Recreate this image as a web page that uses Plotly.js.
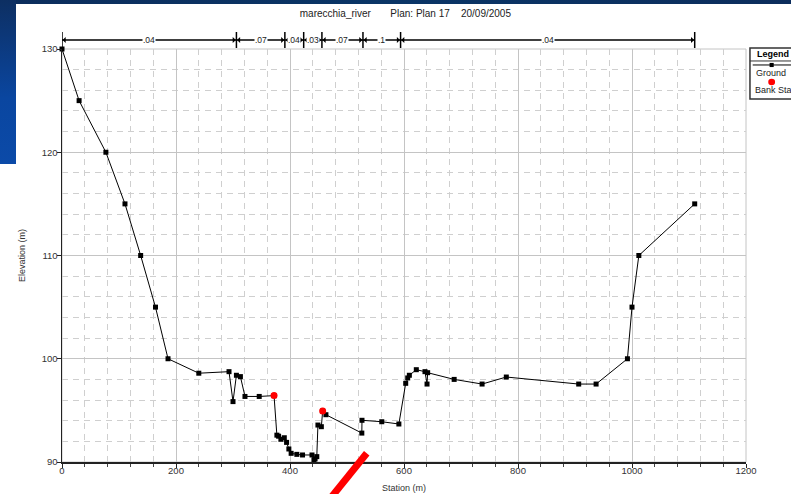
<!DOCTYPE html>
<html>
<head>
<meta charset="utf-8">
<script src="https://cdn.plot.ly/plotly-3.0.1.min.js"></script>
<style>
  html, body { margin:0; padding:0; background:#ffffff; }
  #wrap { position:relative; width:791px; height:494px; overflow:hidden; }
  #chart { position:absolute; left:0; top:0; width:791px; height:494px; }
  #topband { position:absolute; left:0; top:0; width:791px; height:4px; background:linear-gradient(90deg,#0c2d5c,#0a3566 50%,#0c2d5c); }
  #leftband { position:absolute; left:0; top:0; width:16px; height:164px; background:linear-gradient(180deg,#0d2f62,#0a46a0 60%,#0b4aa8); }
</style>
</head>
<body>
<div id="wrap">
  <div id="chart"></div>
  <div id="topband"></div>
  <div id="leftband"></div>
</div>
<script>
// Ground profile (station m, elevation m)
const station = [0, 30, 77, 110.5, 138, 164, 186,
  240, 293, 300, 306, 313, 321, 346, 372,
  377, 380, 384, 390, 394, 398, 402, 412, 422, 438.6,
  442, 444, 447, 449, 455, 457.3, 463,
  526, 526.3, 561, 591,
  603, 606.5, 609.4, 621.6, 636.8, 640.4, 641.5,
  688, 737, 779.5, 906.5, 937,
  992, 1000, 1012, 1110];
const elevation = [130, 125, 120, 115, 110, 105, 100,
  98.6, 98.75, 95.85, 98.4, 98.27, 96.35, 96.35, 96.43,
  92.6, 92.5, 92.2, 92.35, 91.9, 91.26, 90.84, 90.74, 90.68, 90.68,
  90.2, 90.3, 90.52, 93.58, 93.42, 94.94, 94.58,
  92.8, 94.04, 93.9, 93.68,
  97.62, 98.14, 98.4, 98.94, 98.75, 97.55, 98.65,
  98.0, 97.55, 98.23, 97.55, 97.55,
  100, 105, 110, 115];

// Bank stations
const bankStation = [372, 457.3];
const bankElevation = [96.43, 94.94];

// Manning's n zones
const nBounds = [0, 306, 391, 424, 456, 528, 594, 1110];
const nValues = ['.04', '.07', '.04', '.03', '.07', '.1', '.04'];

const xTickVals = [0, 200, 400, 600, 800, 1000, 1200];
const yTickVals = [90, 100, 110, 120, 130];

const titleText = 'marecchia_river\u00a0\u00a0\u00a0\u00a0\u00a0\u00a0\u00a0Plan: Plan 17\u00a0\u00a0\u00a0\u00a020/09/2005';

const FONT = 'Liberation Sans, Arial, sans-serif';

const traces = [
  {
    x: station, y: elevation, type: 'scatter', mode: 'lines+markers',
    line: {color: '#000000', width: 1},
    marker: {symbol: 'square', size: 5, color: '#000000'},
    name: 'Ground', showlegend: false, cliponaxis: false, hoverinfo: 'x+y'
  },
  {
    x: bankStation, y: bankElevation, type: 'scatter', mode: 'markers',
    marker: {symbol: 'circle', size: 7, color: '#ff0000'},
    name: 'Bank Sta', showlegend: false, cliponaxis: false
  }
];

// Manning's n bar shapes and labels
const shapes = [];
const annotations = [];
const barY = 1.0218, tickTop = 1.0412, tickBot = 1.0024;
const ahW = 5.5, ahH = 0.0075; // arrowhead size (x units, paper units)
for (let i = 0; i < nBounds.length; i++) {
  shapes.push({type:'line', xref:'x', yref:'paper', x0:nBounds[i], x1:nBounds[i], y0:tickBot, y1:tickTop,
    line:{color:'#000', width:1.5}});
}
for (let i = 0; i < nValues.length; i++) {
  const a = nBounds[i], b = nBounds[i+1];
  shapes.push({type:'line', xref:'x', yref:'paper', x0:a, x1:b, y0:barY, y1:barY, line:{color:'#000', width:1.3}});
  shapes.push({type:'path', xref:'x', yref:'paper', fillcolor:'#000', line:{width:0},
    path:`M ${a+1} ${barY} L ${a+1+ahW} ${barY+ahH} L ${a+1+ahW} ${barY-ahH} Z`});
  shapes.push({type:'path', xref:'x', yref:'paper', fillcolor:'#000', line:{width:0},
    path:`M ${b-1} ${barY} L ${b-1-ahW} ${barY+ahH} L ${b-1-ahW} ${barY-ahH} Z`});
  annotations.push({xref:'x', yref:'paper', x:(a+b)/2, y:barY, text:nValues[i], showarrow:false,
    font:{family:FONT, size:8.5, color:'#222'}, bgcolor:'#ffffff', borderpad:0, xanchor:'center', yanchor:'middle'});
}

// Plot frame (top/right grey border)
shapes.push({type:'rect', xref:'paper', yref:'paper', x0:0, x1:1, y0:0, y1:1, line:{color:'#c4c4c4', width:1}, layer:'below'});

// Legend box
const lgX0 = 1.0058, lgX1 = 1.08, lgY0 = 0.8789, lgY1 = 1.0024;
shapes.push({type:'rect', xref:'paper', yref:'paper', x0:lgX0, x1:lgX1, y0:lgY0, y1:lgY1, line:{color:'#333', width:1.5}, fillcolor:'#ffffff'});
shapes.push({type:'line', xref:'paper', yref:'paper', x0:lgX0, x1:lgX1, y0:0.971, y1:0.971, line:{color:'#333', width:1}});
shapes.push({type:'line', xref:'paper', yref:'paper', x0:lgX0+0.004, x1:lgX1, y0:0.9613, y1:0.9613, line:{color:'#000', width:1}});
shapes.push({type:'rect', xref:'paper', yref:'paper', x0:1.0345, x1:1.0405, y0:0.9563, y1:0.9663, fillcolor:'#000', line:{width:0}});
shapes.push({type:'circle', xref:'paper', yref:'paper', x0:1.0325, x1:1.0425, y0:0.912, y1:0.928, fillcolor:'#ff0000', line:{width:0}});
annotations.push({xref:'paper', yref:'paper', x:1.0395, y:0.987, text:'<b>Legend</b>', showarrow:false, font:{family:FONT, size:9, color:'#000'}, xanchor:'center', yanchor:'middle'});
annotations.push({xref:'paper', yref:'paper', x:1.0365, y:0.9419, text:'Ground', showarrow:false, font:{family:FONT, size:9, color:'#222'}, xanchor:'center', yanchor:'middle'});
annotations.push({xref:'paper', yref:'paper', x:1.0, y:0.9007, text:'Bank Sta', showarrow:false, font:{family:FONT, size:9, color:'#222'}, xanchor:'left', yanchor:'middle', xshift:7});

// Red slash annotation mark
shapes.push({type:'line', xref:'paper', yref:'paper', x0:0.4455, y0:0.0211, x1:0.3904, y1:-0.092, line:{color:'#ff0000', width:7}});

const layout = {
  width: 791, height: 494,
  margin: {l:62, r:45, t:49, b:32, pad:0},
  paper_bgcolor:'#ffffff', plot_bgcolor:'#ffffff',
  font: {family: FONT, size: 9, color:'#333'},
  title: {text: titleText, x: 0.502, xref:'paper', xanchor:'center', y: 0.972, yref:'container', yanchor:'middle',
    font:{family:FONT, size:10, color:'#222'}},
  showlegend: false,
  xaxis: {
    range:[0,1200], tickvals:xTickVals, ticktext:xTickVals.map(String),
    showline:true, linecolor:'#222', linewidth:1.5,
    ticks:'outside', ticklen:4, tickcolor:'#222', tickwidth:1,
    ticklabelstandoff:-5,
    showgrid:true, gridcolor:'#c4c4c4', gridwidth:1,
    minor:{dtick:40, tick0:0, showgrid:true, gridcolor:'#cfcfcf', griddash:'6px,5px', gridwidth:1, ticks:'outside', ticklen:3, tickcolor:'#444'},
    zeroline:false,
    tickfont:{family:FONT, size:9.5, color:'#333'},
    title:{text:'Station (m)', font:{family:FONT, size:9, color:'#333'}, standoff:10}
  },
  yaxis: {
    range:[90,130], tickvals:yTickVals, ticktext:yTickVals.map(String),
    showline:true, linecolor:'#222', linewidth:1.5,
    ticks:'outside', ticklen:4, tickcolor:'#222', tickwidth:1,
    ticklabelstandoff:-3,
    showgrid:true, gridcolor:'#c4c4c4', gridwidth:1,
    minor:{dtick:2, tick0:90, showgrid:true, gridcolor:'#cfcfcf', griddash:'6px,5px', gridwidth:1},
    zeroline:false,
    tickfont:{family:FONT, size:9.5, color:'#333'},
    title:{text:'Elevation (m)', font:{family:FONT, size:9, color:'#333'}, standoff:14}
  },
  shapes: shapes,
  annotations: annotations
};

Plotly.newPlot('chart', traces, layout, {staticPlot:true, displayModeBar:false});
</script>
</body>
</html>
